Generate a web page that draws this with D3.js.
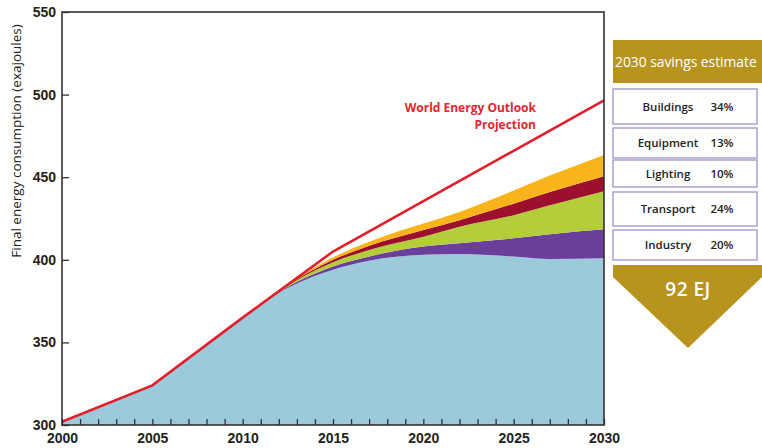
<!DOCTYPE html>
<html>
<head>
<meta charset="utf-8">
<script src="https://cdn.jsdelivr.net/npm/d3@7"></script>
<style>
  html, body { margin: 0; padding: 0; background: #fff; }
  svg { display: block; font-family: "Open Sans", "DejaVu Sans", sans-serif; }
</style>
</head>
<body>
<svg id="chart" width="762" height="448"></svg>
<script>
// ---- data ----
const years = [2000, 2005, 2010, 2012, 2015, 2017, 2020, 2022, 2025, 2027, 2030];
const baseConsumption = [302, 324, 365, 380, 394, 399.5, 403, 403.5, 402, 400.5, 401];
const industrySavings  = [0, 0, 0, 0.5, 2, 2.5, 5, 6.5, 11, 15, 17.5];
const transportSavings = [0, 0, 0, 0.5, 2.5, 4, 6, 10, 14, 17.5, 23];
const lightingSavings  = [0, 0, 0, 0.2, 1.5, 2.5, 4, 4, 7, 8, 9];
const buildingSavings  = [0, 0, 0, 0.3, 1.5, 2.5, 4, 5, 8, 10, 13];

const weoYears = [2000, 2005, 2010, 2015, 2030];
const weoValues = [302, 324, 365, 405, 496.5];

const yTicks = [300, 350, 400, 450, 500, 550];
const xLabelYears = [2000, 2005, 2010, 2015, 2020, 2025, 2030];

const panelTitle = "2030 savings estimate";
const panelLabels = ["Buildings", "Equipment", "Lighting", "Transport", "Industry"];
const panelShares = ["34%", "13%", "10%", "24%", "20%"];
const panelTotal = "92 EJ";

// ---- layout ----
const svg = d3.select("#chart");
const L = 62, R = 604, T = 12, B = 425;
const x = d3.scaleLinear().domain([2000, 2030]).range([L, R]);
const y = d3.scaleLinear().domain([300, 550]).range([B, T]);

const layerKeys = ["base", "industry", "transport", "lighting", "buildings"];
const layerColors = {
  base: "#9ccadb",
  industry: "#6a3f9b",
  transport: "#b4cd3b",
  lighting: "#9c0f2e",
  buildings: "#f8b41a"
};
const table = years.map((yr, i) => ({
  year: yr,
  base: baseConsumption[i],
  industry: industrySavings[i],
  transport: transportSavings[i],
  lighting: lightingSavings[i],
  buildings: buildingSavings[i]
}));
const series = d3.stack().keys(layerKeys)(table);

const area = d3.area()
  .x(d => x(d.data.year))
  .y0(d => y(Math.max(d[0], 300)))
  .y1(d => y(d[1]))
  .curve(d3.curveMonotoneX);

svg.append("g").selectAll("path")
  .data(series)
  .join("path")
  .attr("d", area)
  .attr("fill", d => layerColors[d.key]);

// historical part of base follows straight segments (same as the WEO line)
const histArea = d3.area()
  .x(d => x(d.data.year))
  .y0(y(300))
  .y1(d => y(d[1]))
  .curve(d3.curveLinear);
svg.append("path")
  .datum(series[0].filter(d => d.data.year <= 2010))
  .attr("d", histArea)
  .attr("fill", layerColors.base);

// WEO line
const line = d3.line()
  .x((d, i) => x(weoYears[i]))
  .y(d => y(d));
svg.append("path")
  .datum(weoValues)
  .attr("d", line)
  .attr("fill", "none")
  .attr("stroke", "#e31f2b")
  .attr("stroke-width", 2.6);

// axes
const xAxis = d3.axisBottom(x)
  .tickValues(d3.range(2000, 2031))
  .tickSize(-6)
  .tickPadding(8)
  .tickFormat(d => xLabelYears.includes(d) ? String(d) : "");
const gx = svg.append("g").attr("transform", `translate(0,${B})`).call(xAxis);
gx.select(".domain").remove();
gx.selectAll("line").attr("stroke", "#2b3340").attr("stroke-width", 1.3);
gx.selectAll("text").attr("font-size", 14).attr("font-weight", 600).attr("fill", "#222");

const yAxis = d3.axisLeft(y)
  .tickValues(yTicks)
  .tickSize(-7)
  .tickPadding(6)
  .tickFormat(d3.format("d"));
const gy = svg.append("g").attr("transform", `translate(${L},0)`).call(yAxis);
gy.select(".domain").remove();
gy.selectAll("line").attr("stroke", "#2b3340").attr("stroke-width", 1.3);
gy.selectAll("text").attr("font-size", 14).attr("font-weight", 600).attr("fill", "#222");

// frame
svg.append("rect")
  .attr("x", L).attr("y", T).attr("width", R - L).attr("height", B - T)
  .attr("fill", "none").attr("stroke", "#333").attr("stroke-width", 1.6);

// y title
svg.append("text")
  .attr("transform", `translate(21,141) rotate(-90)`)
  .attr("text-anchor", "middle")
  .attr("font-size", 13.5)
  .attr("fill", "#222")
  .text("Final energy consumption (exajoules)");

// WEO label
const weo = svg.append("text")
  .attr("text-anchor", "end")
  .attr("font-size", 12)
  .attr("font-weight", 700)
  .attr("fill", "#e3262f");
weo.append("tspan").attr("x", 536).attr("y", 112).text("World Energy Outlook");
weo.append("tspan").attr("x", 536).attr("y", 129).text("Projection");

// ---- right panel ----
const gold = "#b8941f";
const PX0 = 613, PX1 = 762, BOXR = 757;
svg.append("rect").attr("x", PX0).attr("y", 40).attr("width", PX1 - PX0).attr("height", 43).attr("fill", gold);
svg.append("text")
  .attr("x", 615).attr("y", 67)
  .attr("text-anchor", "start").attr("font-size", 13.8).attr("fill", "#fff")
  .text(panelTitle);

const boxTops = [89, 128, 160, 192, 230];
const boxBottoms = [124, 158, 187, 226, 260];
panelLabels.forEach((lab, i) => {
  const y0 = boxTops[i], y1 = boxBottoms[i];
  svg.append("rect")
    .attr("x", PX0).attr("y", y0).attr("width", BOXR - PX0).attr("height", y1 - y0)
    .attr("fill", "#fff").attr("stroke", "#a69cd0").attr("stroke-width", 1.4);
  const cy = (y0 + y1) / 2 + 4;
  svg.append("text").attr("x", 668).attr("y", cy).attr("text-anchor", "middle")
    .attr("font-size", 11.5).attr("font-weight", 600).attr("fill", "#222").text(lab);
  svg.append("text").attr("x", 722).attr("y", cy).attr("text-anchor", "middle")
    .attr("font-size", 11.5).attr("font-weight", 600).attr("fill", "#222").text(panelShares[i]);
});

// arrow
svg.append("path")
  .attr("d", `M${PX0},265 L${PX1},265 L${PX1},277 L688,348 L${PX0},277 Z`)
  .attr("fill", gold);
svg.append("text")
  .attr("x", 688).attr("y", 296).attr("text-anchor", "middle")
  .attr("font-size", 19).attr("font-weight", 600).attr("fill", "#fff")
  .attr("letter-spacing", 0.5)
  .text(panelTotal);
</script>
</body>
</html>
